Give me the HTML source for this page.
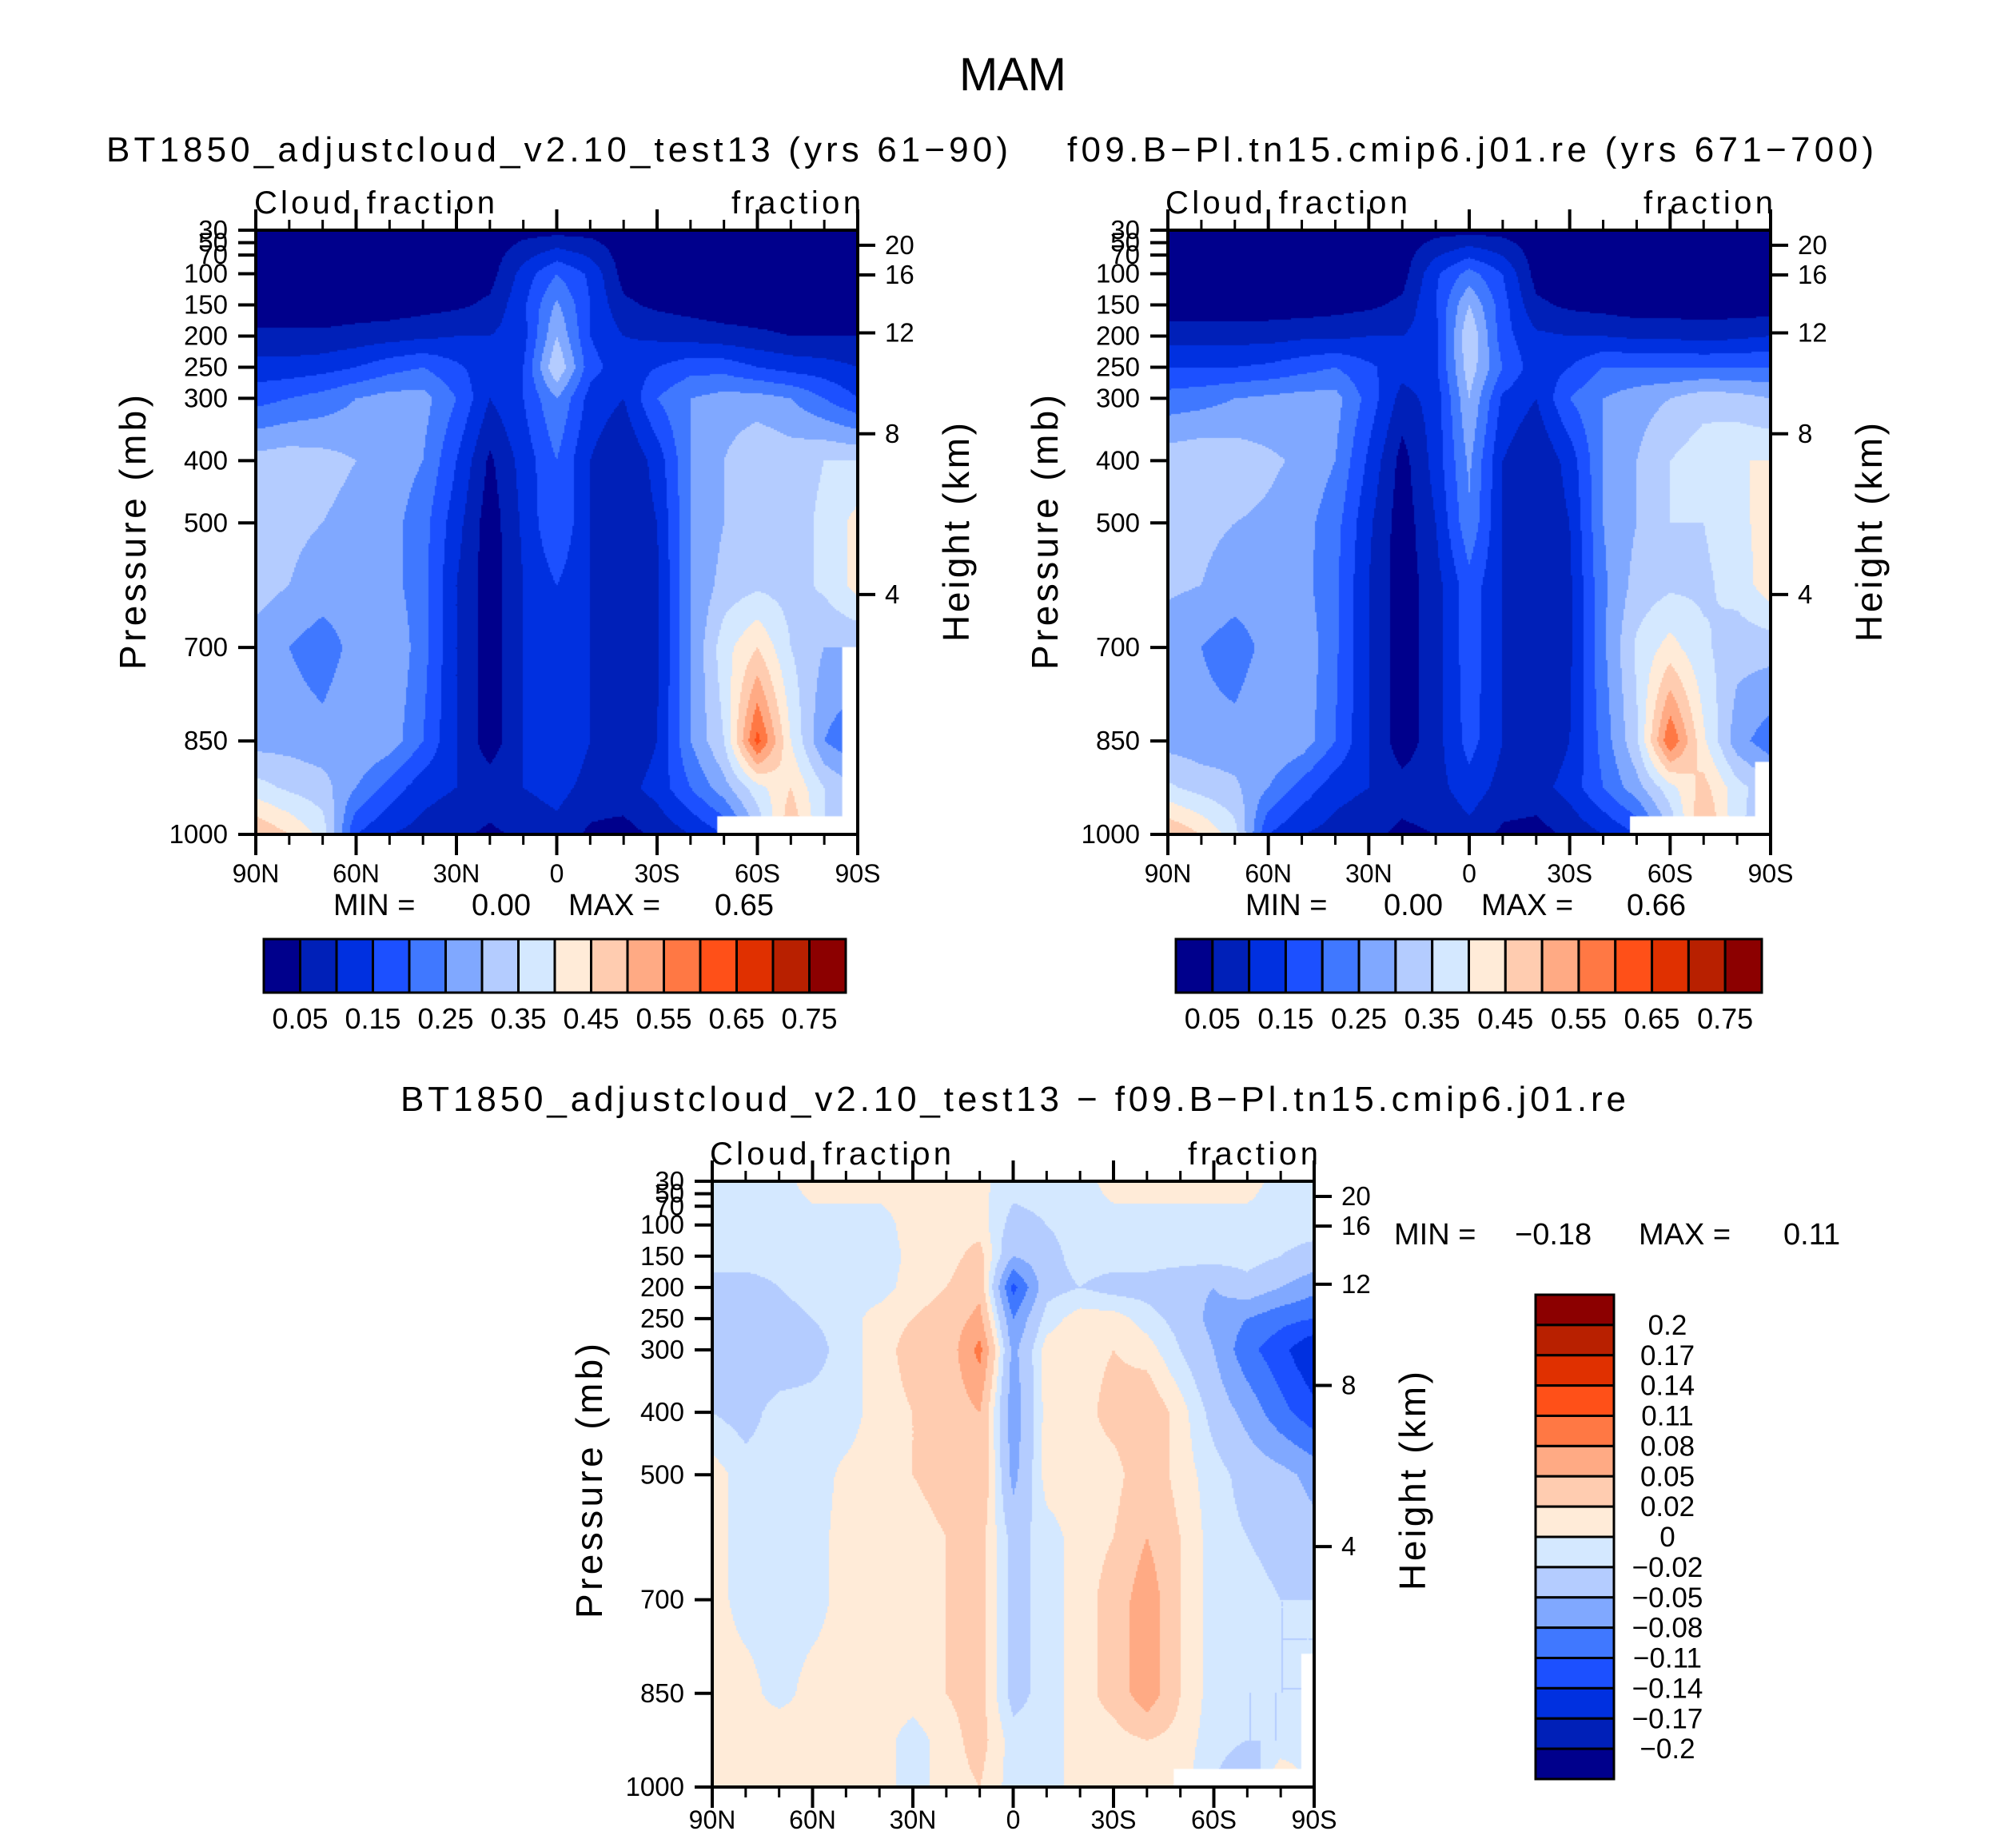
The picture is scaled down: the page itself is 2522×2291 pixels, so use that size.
<!DOCTYPE html>
<html><head><meta charset="utf-8"><title>MAM Cloud fraction</title>
<style>
html,body{margin:0;padding:0;background:#fff;}
#wrap{position:relative;width:2522px;height:2291px;overflow:hidden;background:#fff;}
canvas{position:absolute;}
svg{position:absolute;left:0;top:0;}
text{font-family:"Liberation Sans",sans-serif;fill:#000;}
</style></head>
<body>
<div id="wrap">
<canvas id="c1"></canvas>
<canvas id="c2"></canvas>
<canvas id="c3"></canvas>
<svg id="svg" width="2522" height="2291" xmlns="http://www.w3.org/2000/svg">
<text x="1267" y="113" font-size="58" text-anchor="middle" textLength="134">MAM</text>
<text x="133" y="202" font-size="44" textLength="1128">BT1850_adjustcloud_v2.10_test13 (yrs 61−90)</text>
<text x="1335" y="202" font-size="44" textLength="1009">f09.B−Pl.tn15.cmip6.j01.re (yrs 671−700)</text>
<text x="501" y="1390" font-size="44" textLength="1533">BT1850_adjustcloud_v2.10_test13 − f09.B−Pl.tn15.cmip6.j01.re</text>
</svg>
</div>
<script>
// ---- data ----
const lats = ["90N","80N","70N","60N","50N","40N","30N","20N","10N","0","10S","20S","30S","40S","50S","60S","70S","80S","90S"];
const plevs = [30,100,150,200,250,300,400,500,600,700,850,925,1000];
const fieldA = [
[0.02,0.02,0.02,0.02,0.02,0.02,0.02,0.02,0.03,0.03,0.03,0.02,0.02,0.02,0.02,0.02,0.02,0.02,0.02],
[0.02,0.02,0.02,0.02,0.02,0.02,0.02,0.03,0.12,0.2,0.14,0.03,0.02,0.02,0.02,0.02,0.02,0.02,0.02],
[0.02,0.02,0.02,0.02,0.02,0.03,0.04,0.06,0.14,0.26,0.15,0.06,0.04,0.03,0.02,0.02,0.02,0.02,0.02],
[0.06,0.06,0.06,0.07,0.08,0.09,0.1,0.1,0.13,0.3,0.15,0.1,0.09,0.08,0.07,0.06,0.05,0.05,0.05],
[0.12,0.12,0.13,0.15,0.18,0.2,0.16,0.12,0.15,0.35,0.17,0.12,0.15,0.18,0.18,0.15,0.13,0.12,0.1],
[0.18,0.2,0.22,0.25,0.27,0.27,0.2,0.1,0.15,0.25,0.13,0.1,0.2,0.25,0.27,0.27,0.25,0.2,0.15],
[0.32,0.33,0.32,0.3,0.28,0.25,0.15,0.04,0.12,0.2,0.1,0.05,0.12,0.25,0.3,0.35,0.33,0.35,0.35],
[0.33,0.31,0.3,0.28,0.27,0.22,0.12,0.02,0.11,0.2,0.1,0.05,0.1,0.25,0.3,0.35,0.33,0.36,0.42],
[0.32,0.3,0.28,0.28,0.27,0.22,0.1,0.02,0.1,0.15,0.1,0.05,0.09,0.25,0.32,0.34,0.33,0.36,0.42],
[0.28,0.25,0.22,0.27,0.3,0.22,0.1,0.02,0.1,0.15,0.1,0.05,0.09,0.25,0.38,0.45,0.35,0.3,0.3],
[0.28,0.28,0.27,0.3,0.28,0.2,0.1,0.02,0.1,0.15,0.1,0.05,0.1,0.25,0.35,0.62,0.4,0.25,0.2],
[0.37,0.34,0.32,0.25,0.18,0.12,0.1,0.08,0.1,0.12,0.08,0.08,0.12,0.2,0.28,0.38,0.45,0.35,0.3],
[0.5,0.45,0.38,0.15,0.1,0.08,0.06,0.04,0.06,0.08,0.04,0.03,0.06,0.1,0.15,0.3,0.5,0.35,0.3]];
const fieldB = [
[0.02,0.02,0.02,0.02,0.02,0.02,0.02,0.02,0.03,0.03,0.03,0.02,0.02,0.02,0.02,0.02,0.02,0.02,0.02],
[0.02,0.02,0.02,0.02,0.02,0.02,0.02,0.03,0.14,0.22,0.15,0.03,0.02,0.02,0.02,0.02,0.02,0.02,0.02],
[0.02,0.02,0.02,0.02,0.02,0.03,0.04,0.06,0.15,0.3,0.17,0.06,0.04,0.03,0.02,0.02,0.02,0.02,0.02],
[0.08,0.08,0.08,0.08,0.09,0.09,0.1,0.1,0.13,0.35,0.17,0.11,0.1,0.1,0.09,0.09,0.08,0.09,0.1],
[0.15,0.15,0.15,0.16,0.18,0.2,0.16,0.12,0.14,0.33,0.2,0.12,0.15,0.2,0.2,0.2,0.2,0.2,0.2],
[0.22,0.23,0.25,0.26,0.27,0.27,0.18,0.08,0.12,0.3,0.14,0.1,0.2,0.25,0.28,0.3,0.33,0.32,0.3],
[0.33,0.34,0.33,0.31,0.29,0.25,0.14,0.03,0.12,0.26,0.1,0.05,0.12,0.25,0.3,0.35,0.38,0.4,0.4],
[0.32,0.31,0.3,0.29,0.27,0.22,0.11,0.02,0.1,0.24,0.1,0.05,0.1,0.25,0.3,0.35,0.35,0.38,0.43],
[0.31,0.3,0.28,0.28,0.27,0.21,0.1,0.02,0.08,0.18,0.1,0.05,0.09,0.24,0.32,0.34,0.34,0.37,0.43],
[0.27,0.25,0.22,0.27,0.29,0.21,0.1,0.02,0.08,0.18,0.1,0.05,0.09,0.24,0.36,0.42,0.36,0.32,0.32],
[0.28,0.27,0.27,0.3,0.28,0.2,0.1,0.02,0.08,0.17,0.1,0.05,0.1,0.22,0.34,0.6,0.41,0.27,0.22],
[0.36,0.33,0.31,0.25,0.18,0.12,0.1,0.07,0.08,0.13,0.08,0.08,0.12,0.2,0.28,0.38,0.47,0.37,0.31],
[0.5,0.45,0.37,0.15,0.1,0.08,0.06,0.04,0.05,0.08,0.04,0.03,0.06,0.1,0.15,0.3,0.52,0.36,0.31]];
const fieldD = [
[-0.01,-0.01,-0.01,0.01,0.01,0.01,0.01,0.01,0.005,-0.01,-0.01,-0.01,0.01,0.01,0.01,0.01,0.01,-0.01,-0.01],
[-0.01,-0.01,-0.01,-0.01,-0.01,-0.01,0.01,0.01,0.01,-0.03,-0.02,-0.01,-0.01,-0.01,-0.01,-0.01,-0.01,-0.01,-0.01],
[-0.01,-0.01,-0.01,-0.01,-0.01,-0.01,0.005,0.01,0.03,-0.05,-0.03,-0.01,-0.01,-0.01,-0.01,-0.01,-0.01,-0.02,-0.03],
[-0.03,-0.03,-0.02,-0.01,-0.01,-0.01,0.01,0.02,0.04,-0.12,-0.03,-0.02,-0.03,-0.03,-0.04,-0.05,-0.03,-0.05,-0.07],
[-0.04,-0.03,-0.03,-0.02,-0.01,0.01,0.02,0.03,0.06,-0.08,-0.01,0.01,0.01,-0.01,-0.03,-0.06,-0.08,-0.1,-0.11],
[-0.04,-0.04,-0.04,-0.03,-0.01,0.01,0.03,0.03,0.09,-0.06,0.01,0.01,0.02,0.01,-0.02,-0.05,-0.1,-0.13,-0.17],
[-0.02,-0.03,-0.01,-0.01,-0.01,0.01,0.02,0.03,0.05,-0.07,0.01,0.01,0.03,0.04,0.01,-0.03,-0.06,-0.1,-0.13],
[0.01,-0.01,-0.01,-0.01,0.005,0.01,0.02,0.03,0.05,-0.06,0.01,0.01,0.01,0.04,0.01,-0.01,-0.03,-0.04,-0.06],
[0.01,-0.01,-0.01,-0.01,0.01,0.01,0.01,0.02,0.03,-0.03,-0.01,0.01,0.02,0.05,0.02,-0.01,-0.02,-0.03,-0.04],
[0.01,-0.01,-0.01,-0.01,0.01,0.01,0.01,0.02,0.03,-0.03,-0.01,0.01,0.03,0.07,0.02,-0.01,-0.01,-0.02,-0.02],
[0.01,0.01,-0.01,0.01,0.01,0.01,0.01,0.02,0.03,-0.03,-0.01,0.01,0.03,0.07,0.02,-0.01,-0.02,-0.02,-0.02],
[0.02,0.01,0.02,0.01,0.01,0.01,-0.01,0.01,0.03,-0.01,-0.01,0.01,0.01,0.02,0.01,-0.01,-0.02,-0.02,-0.01],
[0.01,0.01,0.02,0.01,0.01,0.01,-0.01,0.01,0.02,-0.01,-0.01,0.01,0.01,0.01,0.01,-0.02,-0.05,0.03,-0.01]];
const cfLevels = [0.05,0.1,0.15,0.2,0.25,0.3,0.35,0.4,0.45,0.5,0.55,0.6,0.65,0.7,0.75];
const cfTickLabels = ["0.05","0.15","0.25","0.35","0.45","0.55","0.65","0.75"];
const dLevels = [-0.2,-0.17,-0.14,-0.11,-0.08,-0.05,-0.02,0,0.02,0.05,0.08,0.11,0.14,0.17,0.2];
const dTickLabels = ["0.2","0.17","0.14","0.11","0.08","0.05","0.02","0","−0.02","−0.05","−0.08","−0.11","−0.14","−0.17","−0.2"];
const pLabels = ["30","50","70","100","150","200","250","300","400","500","700","850","1000"];
const pTicks = [30,50,70,100,150,200,250,300,400,500,700,850,1000];
const hLabels = ["20","16","12","8","4"];
const hFrac = [0.025,0.074,0.17,0.337,0.603];
const xLabels = ["90N","60N","30N","0","30S","60S","90S"];
const colors = ["#00008C","#0020B8","#0030E0","#1C50FF","#4078FF","#80A8FF","#B4CCFF","#D4E8FF","#FFEBD8","#FFCCB0","#FFAA84","#FF7844","#FF5018","#E03000","#B82000","#8C0000"];

const NS="http://www.w3.org/2000/svg";
const svg=document.getElementById('svg');
function mk(tag,attrs,parent){const e=document.createElementNS(NS,tag);for(const k in attrs)e.setAttribute(k,attrs[k]);(parent||svg).appendChild(e);return e;}

const panels=[
 {id:'c1',x:320,y:288,w:753,h:756,field:fieldA,levels:cfLevels,name:'test13',mm:["MIN =","0.00","MAX =","0.65"],mmx:[417,590,711,894],mmy:1145,titleY:267,cfx:[318,619,915,1077]},
 {id:'c2',x:1461,y:288,w:754,h:756,field:fieldB,levels:cfLevels,name:'f09',mm:["MIN =","0.00","MAX =","0.66"],mmx:[1558,1731,1853,2035],mmy:1145,titleY:267,cfx:[1458,1761,2056,2218]},
 {id:'c3',x:891,y:1478,w:753,h:758,field:fieldD,levels:dLevels,name:'difference',mm:["MIN =","−0.18","MAX =","0.11"],mmx:[1744,1895,2050,2231],mmy:1557,titleY:1457,cfx:[888,1190,1486,1649]}
];

function yScale(p,pr){return p.y+(pr-30)/970*p.h;}
function boxIndex(v,levels){let k=0;for(const l of levels){if(v>=l)k++;}return k;}
function sample(f,fi,pr){
  let i=Math.min(Math.floor(fi),lats.length-2);const tx=fi-i;
  let k=0;while(k<plevs.length-2&&pr>plevs[k+1])k++;
  const ty=(pr-plevs[k])/(plevs[k+1]-plevs[k]);
  const a=f[k][i]*(1-tx)+f[k][i+1]*tx,b=f[k+1][i]*(1-tx)+f[k+1][i+1]*tx;
  return a*(1-ty)+b*ty;
}

panels.forEach(p=>{
  const c=document.getElementById(p.id);
  c.width=p.w;c.height=p.h;c.style.left=p.x+'px';c.style.top=p.y+'px';
  const ctx=c.getContext('2d');const s=2;
  for(let py=0;py<p.h;py+=s){
    const pr=30+(py+s/2)/p.h*970;
    for(let px=0;px<p.w;px+=s){
      const fi=(px+s/2)/p.w*(lats.length-1);
      ctx.fillStyle=colors[boxIndex(sample(p.field,fi,pr),p.levels)];
      ctx.fillRect(px,py,s,s);
    }
  }
  ctx.fillStyle='#fff';
  const x48=(138/180)*p.w;
  ctx.fillRect(x48,p.h*(1-14/468),p.w-x48,p.h);
  if(p.id!=='c3'){ctx.fillRect(p.w*(1-12/466),p.h*(p.id==='c1'?0.69:0.88),p.w,p.h);}
  else{ctx.fillRect(p.w*(1-10/466),p.h*0.78,p.w,p.h);}

  const g=mk('g',{});
  
  
  const fr=mk('rect',{x:p.x,y:p.y,width:p.w,height:p.h,fill:'none',stroke:'#000','stroke-width':4},g);
  
  
  for(let d=0;d<=180;d+=10){
    const x=p.x+d/180*p.w;const maj=d%30===0;const L=maj?26:13;
    const t1=mk('line',{x1:x,x2:x,y1:p.y,y2:p.y-L,stroke:'#000','stroke-width':maj?4:3},g);
    
    
    const t2=mk('line',{x1:x,x2:x,y1:p.y+p.h,y2:p.y+p.h+L,stroke:'#000','stroke-width':maj?4:3},g);
    
    
  }
  xLabels.forEach((lab,j)=>{
    const t=mk('text',{x:p.x+j/6*p.w,y:p.y+p.h+(p.id==='c3'?52:60),'font-size':32,'text-anchor':'middle'},g);
    t.textContent=lab;
    
    
  });
  pTicks.forEach((pv,j)=>{
    const y=yScale(p,pv);
    const l=mk('line',{x1:p.x,x2:p.x-22,y1:y,y2:y,stroke:'#000','stroke-width':4},g);
    
    
    const t=mk('text',{x:p.x-35,y:y+11,'font-size':33,'text-anchor':'end'},g);
    t.textContent=pLabels[j];
    
    
  });
  hLabels.forEach((lab,j)=>{
    const y=p.y+hFrac[j]*p.h;
    const l=mk('line',{x1:p.x+p.w,x2:p.x+p.w+22,y1:y,y2:y,stroke:'#000','stroke-width':4},g);
    
    
    const t=mk('text',{x:p.x+p.w+34,y:y+11,'font-size':33},g);
    t.textContent=lab;
    
    
  });
  const cy=p.y+p.h/2+(p.id==='c3'?-4:0);
  const yt=mk('text',{x:0,y:0,'font-size':46,'text-anchor':'middle',textLength:344,transform:`translate(${p.x-138},${cy}) rotate(-90)`},g);
  yt.textContent='Pressure (mb)';
  
  
  const ht=mk('text',{x:0,y:0,'font-size':46,'text-anchor':'middle',textLength:274,transform:`translate(${p.x+p.w+139},${cy}) rotate(-90)`},g);
  ht.textContent='Height (km)';
  
  
  const c1=mk('text',{x:p.cfx[0],y:p.titleY,'font-size':40,textLength:p.cfx[1]-p.cfx[0]},g);
  c1.textContent='Cloud fraction';
  
  
  const c2=mk('text',{x:p.cfx[2],y:p.titleY,'font-size':40,textLength:p.cfx[3]-p.cfx[2]},g);
  c2.textContent='fraction';
  
  
  p.mm.forEach((s,j)=>{
    const t=mk('text',{x:p.mmx[j],y:p.mmy,'font-size':38},g);
    t.textContent=s;
    
    
  });
});

[[330,1058],[1471,2204]].forEach((cb,ci)=>{
  const g=mk('g',{});
  
  
  const bw=(cb[1]-cb[0])/colors.length;
  colors.forEach((col,k)=>{
    const r=mk('rect',{x:cb[0]+k*bw,y:1175,width:bw,height:67,fill:col,stroke:'#000','stroke-width':3},g);
    
    
  });
  cfTickLabels.forEach((lab,j)=>{
    const t=mk('text',{x:cb[0]+(2*j+1)*bw,y:1287,'font-size':36,'text-anchor':'middle'},g);
    t.textContent=lab;
    
    
  });
});
(function(){
  const g=mk('g',{});
  
  
  const x0=1921,y0=1620,bh=(2226-1620)/colors.length;
  colors.slice().reverse().forEach((col,k)=>{
    const r=mk('rect',{x:x0,y:y0+k*bh,width:98,height:bh,fill:col,stroke:'#000','stroke-width':3},g);
    
    
  });
  dTickLabels.forEach((lab,j)=>{
    const t=mk('text',{x:2086,y:y0+(j+1)*bh+12,'font-size':35,'text-anchor':'middle'},g);
    t.textContent=lab;
    
    
  });
})();
</script>
</body></html>
